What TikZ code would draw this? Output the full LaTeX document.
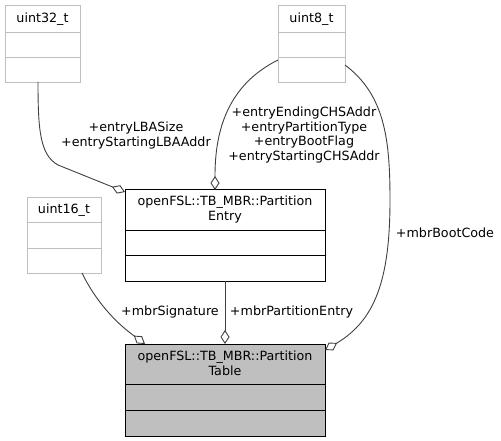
\documentclass[tikz,border=0pt]{standalone}
\usepackage{fontspec}
\setmainfont{DejaVu Sans}
\usetikzlibrary{arrows.meta}
\definecolor{edgec}{HTML}{404040}
\definecolor{lgray}{HTML}{BFBFBF}
\definecolor{tfill}{HTML}{BFBFBF}
\begin{document}
\begin{tikzpicture}[x=1pt,y=-1pt,
  every node/.style={font=\fontsize{12.7}{14.7}\selectfont, inner sep=0pt, align=center},
  graybox/.style={draw=lgray, line width=0.9pt},
  blackbox/.style={draw=black, line width=1pt},
  conn/.style={draw=edgec, line width=0.9pt, -{Diamond[open,length=14pt,width=9pt]}},
  lbl/.style={text=black}
]
\useasboundingbox (0,0) rectangle (501,441);
% uint32_t
\node[graybox, minimum width=75pt, minimum height=77pt] (u32) at (42.5,43.5) {};
\node (u32t) at (42.5,19) {uint32\_t};
\draw[lgray, line width=0.9pt] (5,32) -- (80,32) (5,57) -- (80,57);
% uint8_t
\node[graybox, minimum width=67pt, minimum height=77pt] (u8) at (311.5,43.5) {};
\node (u8t) at (311.5,19) {uint8\_t};
\draw[lgray, line width=0.9pt] (278,32) -- (345,32) (278,57) -- (345,57);
% uint16_t
\node[graybox, minimum width=74pt, minimum height=76pt] (u16) at (64,235) {};
\node (u16t) at (64,210) {uint16\_t};
\draw[lgray, line width=0.9pt] (27,222) -- (101,222) (27,248) -- (101,248);
% PartitionEntry
\node[blackbox, fill=white, minimum width=200pt, minimum height=91pt] (pe) at (225,235.5) {};
\node (pet) at (225,209.5) {openFSL::TB\_MBR::Partition\\Entry};
\draw[black, line width=1pt] (125,230) -- (325,230) (125,255) -- (325,255);
% PartitionTable
\node[blackbox, fill=tfill, minimum width=200pt, minimum height=92pt] (pt) at (225,390) {};
\node (ptt) at (225,363.5) {openFSL::TB\_MBR::Partition\\Table};
\draw[black, line width=1pt] (125,384) -- (325,384) (125,410) -- (325,410);
% connector endpoints
\coordinate (a1) at (38,82);
\coordinate (b1) at (125,192);
\coordinate (a2) at (278,60);
\coordinate (b2) at (215,190);
\coordinate (a3) at (345,65);
\coordinate (b3) at (325,350);
\coordinate (a4) at (82,273);
\coordinate (b4) at (145,344);
\coordinate (a5) at (225,281);
\coordinate (b5) at (225,344);
% connectors
\draw[conn] (a1) .. controls (38,130) and (40,155) .. (58,165) -- (b1);
\draw[conn] (a2) .. controls (228,85) and (215,130) .. (215,176) -- (b2);
\draw[conn] (a3) .. controls (385,95) and (390,140) .. (390,200) .. controls (390,280) and (375,320) .. (337,343) -- (b3);
\draw[conn] (a4) .. controls (95,300) and (115,322) .. (133,335) -- (b4);
\draw[conn] (a5) -- (b5);
% labels
\node[lbl] (l1) at (136,135.5) {+entryLBASize\\+entryStartingLBAAddr};
\node[lbl] (l2) at (304,135) {+entryEndingCHSAddr\\+entryPartitionType\\+entryBootFlag\\+entryStartingCHSAddr};
\node[lbl] (l3) at (445,233) {+mbrBootCode};
\node[lbl] (l4) at (170,312) {+mbrSignature};
\node[lbl] (l5) at (291.5,312) {+mbrPartitionEntry};
\end{tikzpicture}
\end{document}
